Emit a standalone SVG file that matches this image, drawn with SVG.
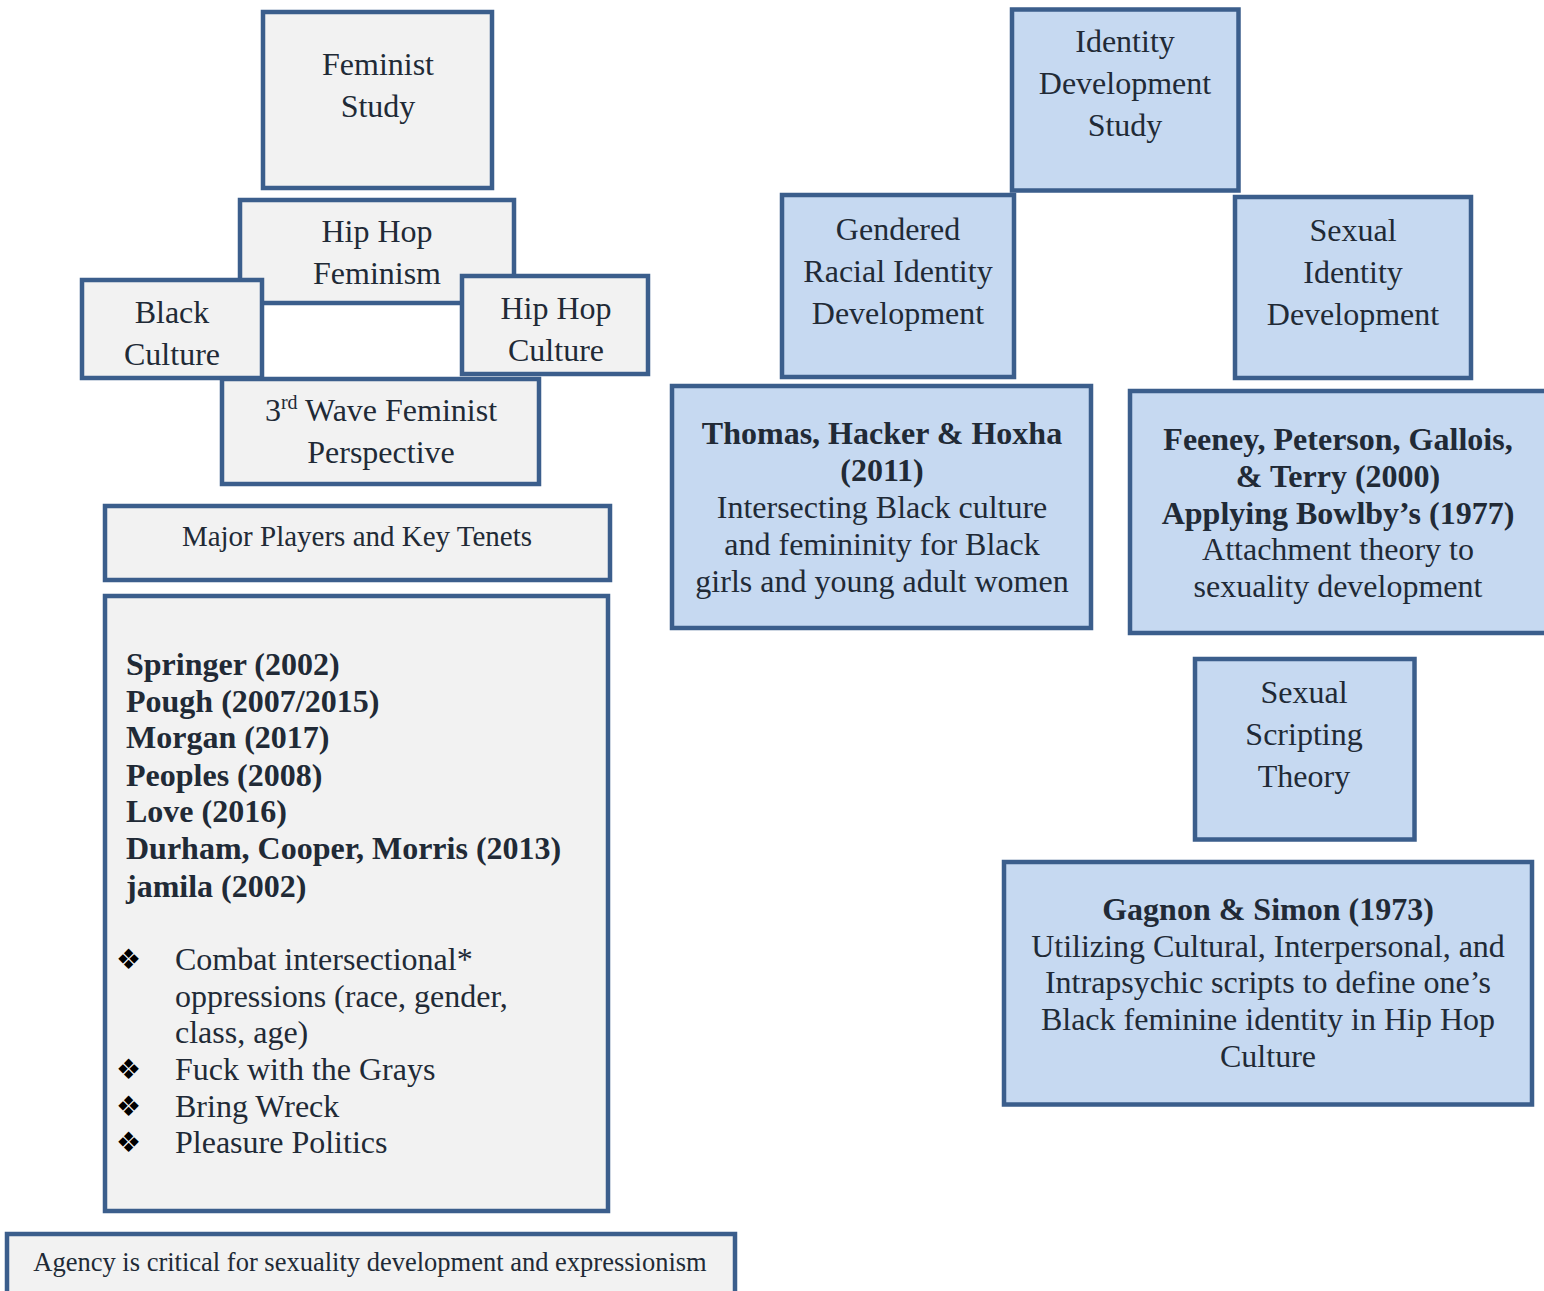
<svg xmlns="http://www.w3.org/2000/svg" width="1544" height="1291" viewBox="0 0 1544 1291">
<style>
.g{fill:#f2f2f2;stroke:#3b5e8c;stroke-width:4.5}
.b{fill:#c6d9f1;stroke:#3b5e8c;stroke-width:4.5}
text{font-family:"Liberation Serif","Times New Roman",serif;fill:#212a36}
.l{font-size:32px;text-anchor:middle}
.bd{font-weight:bold}
.n{font-size:32px;font-weight:bold}
.t{font-size:32px}
.bu{font-family:"DejaVu Sans",sans-serif;font-size:28px;fill:#000}
</style>
<rect width="1544" height="1291" fill="#ffffff"/>
<g id="connectors"></g>
<g id="feminist-study"><rect class="g" x="263" y="12" width="229" height="176"/>
<text class="l" x="378" y="75">Feminist</text><text class="l" x="378" y="117">Study</text></g>
<g id="hip-hop-feminism"><rect class="g" x="240" y="200" width="274" height="103"/>
<text class="l" x="377" y="242">Hip Hop</text><text class="l" x="377" y="284">Feminism</text></g>
<g id="black-culture"><rect class="g" x="82" y="280" width="180" height="98"/>
<text class="l" x="172" y="323">Black</text><text class="l" x="172" y="365">Culture</text></g>
<g id="hip-hop-culture"><rect class="g" x="462" y="276" width="186" height="98"/>
<text class="l" x="556" y="319">Hip Hop</text><text class="l" x="556" y="361">Culture</text></g>
<g id="third-wave"><rect class="g" x="222" y="379" width="317" height="105"/>
<text class="l" x="381" y="421">3<tspan font-size="20" dy="-12">rd</tspan><tspan dy="12"> Wave Feminist</tspan></text>
<text class="l" x="381" y="463">Perspective</text></g>
<g id="major-players"><rect class="g" x="105" y="506" width="505" height="74"/>
<text x="357" y="546" font-size="29" text-anchor="middle">Major Players and Key Tenets</text></g>
<g id="players-list"><rect class="g" x="105" y="596" width="503" height="615"/>
<text class="n" x="126" y="675">Springer (2002)</text>
<text class="n" x="126" y="712">Pough (2007/2015)</text>
<text class="n" x="126" y="748">Morgan (2017)</text>
<text class="n" x="126" y="786">Peoples (2008)</text>
<text class="n" x="126" y="822">Love (2016)</text>
<text class="n" x="126" y="859">Durham, Cooper, Morris (2013)</text>
<text class="n" x="126" y="897">jamila (2002)</text>
<text class="bu" x="116" y="969">❖</text>
<text class="t" x="175" y="970">Combat intersectional*</text>
<text class="t" x="175" y="1007">oppressions (race, gender,</text>
<text class="t" x="175" y="1043">class, age)</text>
<text class="bu" x="116" y="1079">❖</text>
<text class="t" x="175" y="1080">Fuck with the Grays</text>
<text class="bu" x="116" y="1116">❖</text>
<text class="t" x="175" y="1117">Bring Wreck</text>
<text class="bu" x="116" y="1152">❖</text>
<text class="t" x="175" y="1153">Pleasure Politics</text></g>
<g id="agency"><rect class="g" x="7" y="1234" width="728" height="70"/>
<text x="370" y="1271" font-size="26.5" text-anchor="middle">Agency is critical for sexuality development and expressionism</text></g>
<g id="identity-development-study"><rect class="b" x="1012" y="9.5" width="226.5" height="181"/>
<text class="l" x="1125" y="52">Identity</text><text class="l" x="1125" y="94">Development</text><text class="l" x="1125" y="136">Study</text></g>
<g id="gendered-racial"><rect class="b" x="782" y="195" width="232" height="182"/>
<text class="l" x="898" y="240">Gendered</text><text class="l" x="898" y="282">Racial Identity</text><text class="l" x="898" y="324">Development</text></g>
<g id="sexual-identity"><rect class="b" x="1235" y="197" width="236" height="181"/>
<text class="l" x="1353" y="241">Sexual</text><text class="l" x="1353" y="283">Identity</text><text class="l" x="1353" y="325">Development</text></g>
<g id="thomas"><rect class="b" x="672" y="386" width="419" height="242"/>
<text class="l bd" x="882" y="444">Thomas, Hacker &amp; Hoxha</text>
<text class="l bd" x="882" y="481">(2011)</text>
<text class="l" x="882" y="518">Intersecting Black culture</text>
<text class="l" x="882" y="555">and femininity for Black</text>
<text class="l" x="882" y="592">girls and young adult women</text></g>
<g id="feeney"><rect class="b" x="1130" y="391" width="430" height="242"/>
<text class="l bd" x="1338" y="450">Feeney, Peterson, Gallois,</text>
<text class="l bd" x="1338" y="487">&amp; Terry (2000)</text>
<text class="l bd" x="1338" y="524">Applying Bowlby’s (1977)</text>
<text class="l" x="1338" y="560">Attachment theory to</text>
<text class="l" x="1338" y="597">sexuality development</text></g>
<g id="sexual-scripting"><rect class="b" x="1195" y="659" width="219.5" height="180.5"/>
<text class="l" x="1304" y="703">Sexual</text><text class="l" x="1304" y="745">Scripting</text><text class="l" x="1304" y="787">Theory</text></g>
<g id="gagnon"><rect class="b" x="1004" y="862" width="528" height="242.5"/>
<text class="l bd" x="1268" y="920">Gagnon &amp; Simon (1973)</text>
<text class="l" x="1268" y="957">Utilizing Cultural, Interpersonal, and</text>
<text class="l" x="1268" y="993">Intrapsychic scripts to define one’s</text>
<text class="l" x="1268" y="1030">Black feminine identity in Hip Hop</text>
<text class="l" x="1268" y="1067">Culture</text></g>
</svg>
